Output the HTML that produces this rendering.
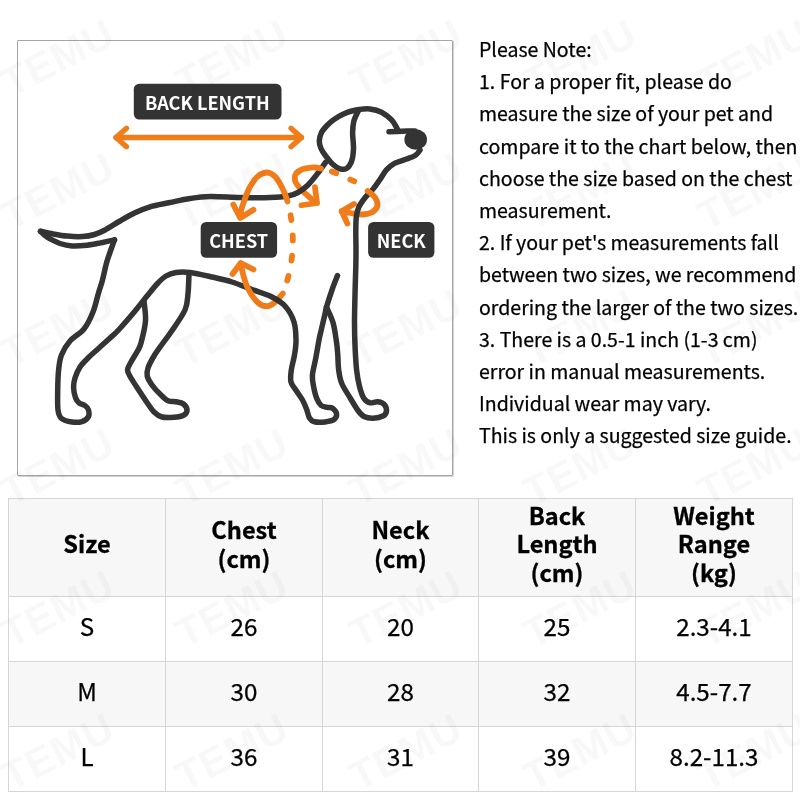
<!DOCTYPE html>
<html lang="en">
<head>
<meta charset="utf-8">
<title>Pet Size Guide</title>
<style>
html,body{margin:0;padding:0;}
body{width:800px;height:800px;background:#fff;position:relative;overflow:hidden;font-family:"Noto Sans CJK SC","Liberation Sans",sans-serif;color:#111;}
.wm{position:absolute;width:140px;height:50px;margin:-25px 0 0 -70px;text-align:center;font-family:"Liberation Sans",sans-serif;font-weight:bold;font-size:41px;letter-spacing:1px;line-height:50px;color:rgba(0,0,0,.028);transform:rotate(-27deg);white-space:nowrap;z-index:5;pointer-events:none;}
.imgbox{position:absolute;left:17px;top:40px;width:434px;height:434px;border:1px solid #a6a6a6;border-radius:1px;box-shadow:1px 1px 0 rgba(160,160,160,.45);box-sizing:content-box;z-index:1;}
.imgbox svg{position:absolute;left:-18px;top:-41px;}
.note{position:absolute;left:479px;top:33px;width:330px;font-size:19.55px;line-height:32.2px;color:#000;-webkit-text-stroke:0.25px #000;z-index:2;white-space:nowrap;}
.note div{height:32.2px;}
table{position:absolute;left:8px;top:498px;width:784px;border-collapse:collapse;table-layout:fixed;z-index:2;}
td,th{border:1px solid #d6d6d6;text-align:center;vertical-align:middle;padding:0;}
th{font-weight:bold;height:89px;padding-bottom:8px;color:#000;-webkit-text-stroke:0.3px #000;line-height:28.3px;background:rgba(246,246,246,.85);font-size:23.6px;}
td{height:56px;padding-bottom:8px;font-size:24.2px;color:#000;-webkit-text-stroke:0.25px #000;}
tr.alt td{background:rgba(246,246,246,.85);}
</style>
</head>
<body>
<div class="imgbox">
<svg width="800" height="800" viewBox="0 0 800 800">
<g fill="none" stroke="#f07d1a" stroke-width="5.8" stroke-linecap="round" stroke-linejoin="round">
<path d="M265.5 306.2 C267.1 306.4 268.5 306.1 270.0 305.5 C271.5 304.9 273.0 303.8 274.5 302.5 C276.0 301.2 277.6 299.5 279.0 298.0 C280.4 296.5 282.1 294.2 282.8 293.5"/>
<path d="M298.5 171.5 C297.2 172.4 296.1 173.5 295.5 174.5 C294.9 175.5 294.8 176.2 294.8 177.5 C294.8 178.8 294.9 180.5 295.5 182.0 C296.1 183.5 297.4 185.1 298.5 186.5 C299.6 187.9 300.6 189.1 302.0 190.5 C303.4 191.9 305.2 193.4 306.8 194.8 C308.2 196.1 309.4 197.2 311.0 198.5 C312.6 199.8 315.6 201.8 316.5 202.5"/>
<path d="M372.5 212.0 C369.9 213.5 365.6 214.3 362.0 214.5 C358.4 214.7 354.0 213.5 350.6 213.0 C347.2 212.5 343.2 211.6 341.7 211.3"/>
<path d="M315 187.25 L317 203 L301.5 205.25"/>
<path d="M354 204 L341.7 211.3 L347.4 223.5"/>
</g>
<g fill="none" stroke="#343434" stroke-width="5.5" stroke-linecap="round" stroke-linejoin="round">
<path d="M325.5 162.5 C324.2 164.2 320.9 169.2 318.0 173.0 C315.1 176.8 311.3 181.8 308.0 185.0 C304.7 188.2 301.3 190.7 298.0 192.5 C294.7 194.3 292.7 195.2 288.0 196.0 C283.3 196.8 278.0 197.2 270.0 197.5 C262.0 197.8 250.0 197.7 240.0 197.5 C230.0 197.3 218.3 196.3 210.0 196.5 C201.7 196.7 196.7 197.5 190.0 198.5 C183.3 199.5 176.7 201.1 170.0 202.5 C163.3 203.9 155.8 205.0 150.0 206.8 C144.2 208.5 140.0 210.4 135.0 212.8 C130.0 215.1 125.0 218.1 120.0 221.0 C115.0 223.9 109.2 227.8 105.0 230.0 C100.8 232.2 98.2 233.4 94.5 234.5 C90.8 235.6 87.0 236.3 82.5 236.6 C78.0 236.9 72.5 236.6 67.5 236.1 C62.5 235.6 57.0 234.6 52.5 233.8 C48.0 232.9 42.5 231.7 40.5 231.3"/>
<path d="M40.5 231.3 C41.2 231.9 43.0 233.8 44.5 235.0 C46.0 236.2 46.9 237.1 49.5 238.5 C52.1 239.9 56.2 242.3 60.0 243.5 C63.8 244.7 67.5 245.6 72.0 245.9 C76.5 246.2 82.2 245.7 87.0 245.2 C91.8 244.7 95.9 243.8 100.5 242.9 C105.1 242.0 112.2 240.4 114.5 239.9"/>
<path d="M114.5 239.9 C113.9 241.5 112.3 245.7 111.0 249.5 C109.7 253.3 107.9 257.9 106.5 263.0 C105.1 268.1 103.8 275.0 102.5 280.0 C101.2 285.0 100.1 287.7 98.5 293.0 C96.9 298.3 95.4 306.0 93.0 312.0 C90.6 318.0 87.8 324.2 84.0 329.0 C80.2 333.8 73.8 336.7 70.0 341.0 C66.2 345.3 63.4 350.2 61.5 355.0 C59.6 359.8 59.2 364.2 58.6 370.0 C58.0 375.8 57.8 383.3 57.7 390.0 C57.6 396.7 57.4 405.2 58.0 410.0 C58.6 414.8 59.2 416.5 61.5 418.5 C63.8 420.5 68.6 421.5 72.0 422.0 C75.4 422.5 79.2 422.5 82.0 421.6 C84.8 420.7 87.5 418.5 88.5 416.5 C89.5 414.5 88.9 411.3 88.3 409.5 C87.7 407.7 86.5 406.7 85.0 405.6 C83.5 404.5 80.6 404.1 79.0 402.8 C77.4 401.5 76.5 400.5 75.6 398.0 C74.7 395.5 73.7 391.3 73.6 388.0 C73.5 384.7 73.9 381.5 75.0 378.0 C76.1 374.5 77.8 370.4 80.0 367.0 C82.2 363.6 85.3 360.7 88.5 357.5 C91.7 354.3 95.5 351.2 99.0 348.0 C102.5 344.8 106.2 341.6 109.5 338.5 C112.8 335.4 114.7 334.2 119.0 329.5 C123.3 324.8 130.8 316.1 135.5 310.5 C140.2 304.9 143.2 300.6 147.0 296.0 C150.8 291.4 154.8 286.3 158.0 283.0 C161.2 279.7 163.0 277.8 166.0 276.0 C169.0 274.2 172.0 273.1 176.0 272.5 C180.0 271.9 184.0 271.8 190.0 272.5 C196.0 273.2 205.0 275.4 212.0 277.0 C219.0 278.6 225.3 279.9 232.0 282.0 C238.7 284.1 245.5 287.1 252.0 289.5 C258.5 291.9 265.5 293.8 271.0 296.5 C276.5 299.2 281.2 301.8 285.0 306.0 C288.8 310.2 292.2 316.3 294.0 322.0 C295.8 327.7 295.9 334.5 296.0 340.0 C296.1 345.5 295.3 350.0 294.5 355.0 C293.7 360.0 291.9 365.5 291.3 370.0 C290.7 374.5 290.1 378.5 291.0 382.0 C291.9 385.5 294.6 388.0 296.5 391.0 C298.4 394.0 300.8 397.0 302.5 400.0 C304.2 403.0 305.3 406.0 306.5 409.0 C307.7 412.0 308.2 415.9 309.5 418.0 C310.8 420.1 311.9 421.1 314.5 421.8 C317.1 422.4 321.8 422.3 325.0 421.9 C328.2 421.5 332.1 420.9 334.0 419.5 C335.9 418.1 336.8 415.4 336.5 413.5 C336.2 411.6 334.0 409.3 332.5 408.2 C331.0 407.2 329.1 407.8 327.2 407.3 C325.4 406.8 323.0 407.0 321.2 405.5 C319.5 404.0 318.1 401.9 316.8 398.5 C315.4 395.1 314.0 389.0 313.3 385.0 C312.6 381.0 312.1 378.8 312.5 374.5 C312.9 370.2 314.4 365.2 315.5 359.5 C316.6 353.8 318.1 344.8 319.0 340.0 C319.9 335.2 320.0 335.3 321.0 331.0 C322.0 326.7 324.1 318.0 325.0 314.0 C325.9 310.0 325.3 311.0 326.5 307.0 C327.7 303.0 330.2 295.2 332.0 290.0 C333.8 284.8 336.6 277.9 337.5 275.5"/>
<path d="M144.0 301.0 C144.2 304.3 146.0 314.0 145.5 321.0 C145.0 328.0 142.3 338.0 141.0 343.0 C139.7 348.0 139.2 347.8 137.5 351.0 C135.8 354.2 132.7 358.8 131.0 362.0 C129.3 365.2 127.5 367.3 127.5 370.0 C127.5 372.7 128.9 374.3 131.0 378.0 C133.1 381.7 137.2 387.7 140.0 392.0 C142.8 396.3 145.7 400.7 148.0 404.0 C150.3 407.3 151.7 409.8 154.0 412.0 C156.3 414.2 158.7 416.1 162.0 417.0 C165.3 417.9 170.3 417.6 174.0 417.3 C177.7 417.0 181.8 416.2 184.0 415.0 C186.2 413.8 187.1 411.8 187.0 410.0 C186.9 408.2 185.3 405.4 183.5 404.0 C181.7 402.6 178.6 402.3 176.0 401.8 C173.4 401.3 170.7 402.1 168.0 400.8 C165.3 399.5 162.7 396.6 160.0 394.0 C157.3 391.4 154.1 388.0 152.0 385.0 C149.9 382.0 147.9 378.8 147.2 376.0 C146.5 373.2 146.9 371.3 148.0 368.0 C149.1 364.7 151.5 360.2 154.0 356.0 C156.5 351.8 160.2 347.0 163.0 343.0 C165.8 339.0 167.3 337.5 171.0 332.0 C174.7 326.5 182.2 316.4 185.0 310.0 C187.8 303.6 187.3 299.5 188.0 293.5 C188.7 287.5 188.8 277.2 189.0 274.0"/>
<path d="M326.5 307.0 C327.6 309.6 331.3 316.7 333.0 322.5 C334.7 328.3 335.7 336.6 336.5 342.0 C337.3 347.4 337.4 350.3 337.8 355.0 C338.1 359.7 338.0 365.2 338.7 370.0 C339.4 374.8 339.8 378.8 341.8 383.5 C343.8 388.2 347.8 394.0 350.5 398.5 C353.2 403.0 355.8 407.5 358.0 410.5 C360.2 413.5 361.5 415.2 364.0 416.5 C366.5 417.8 369.8 418.3 373.0 418.2 C376.2 418.1 381.2 417.0 383.5 415.8 C385.8 414.5 386.4 412.5 386.5 410.5 C386.6 408.5 385.3 405.5 383.8 404.0 C382.3 402.5 379.8 401.9 377.5 401.7 C375.2 401.5 372.2 403.3 370.0 402.8 C367.8 402.3 365.8 401.2 364.0 398.5 C362.2 395.8 360.7 391.2 359.5 386.5 C358.3 381.8 357.3 376.1 356.6 370.0 C355.9 363.9 355.6 357.9 355.2 350.0 C354.8 342.1 354.5 331.7 354.5 322.5 C354.5 313.3 354.8 304.2 355.0 295.0 C355.2 285.8 355.6 274.5 355.8 267.0 C356.0 259.5 356.0 255.8 356.0 250.0 C356.0 244.2 355.8 237.5 355.8 232.0 C355.9 226.5 355.8 221.1 356.3 217.0 C356.8 212.9 357.3 210.5 358.8 207.2 C360.2 204.0 362.8 200.6 365.2 197.5 C367.7 194.4 371.0 191.6 373.4 188.6 C375.8 185.6 377.7 182.7 379.9 179.6 C382.1 176.5 384.0 172.6 386.4 169.9 C388.8 167.2 391.2 165.2 394.5 163.4 C397.8 161.6 402.4 160.7 405.9 159.3 C409.4 157.9 413.2 156.8 415.6 155.2 C418.0 153.7 419.3 150.9 420.0 150.0"/>
<path d="M398.0 130.5 C397.7 129.8 397.1 128.3 396.0 126.5 C394.9 124.7 393.7 121.9 391.2 119.5 C388.8 117.1 385.0 114.0 381.5 112.2 C378.0 110.5 373.8 109.5 370.0 109.0 C366.2 108.5 362.1 109.1 358.8 109.5 C355.4 109.9 352.7 110.7 350.0 111.5 C347.3 112.3 345.2 113.3 342.5 114.6 C339.8 115.9 336.6 117.7 334.0 119.5 C331.4 121.3 329.1 123.3 327.0 125.5 C324.9 127.7 322.8 129.9 321.5 132.5 C320.2 135.1 319.4 138.3 319.3 141.0 C319.2 143.7 320.0 146.1 321.0 148.5 C322.0 150.9 323.2 152.6 325.2 155.2 C327.2 157.9 330.3 161.9 332.8 164.2 C335.2 166.5 337.7 168.1 340.0 168.8 C342.3 169.5 344.6 169.7 346.5 168.5 C348.4 167.3 350.2 165.0 351.4 161.8 C352.6 158.5 353.3 153.6 353.5 148.8 C353.7 143.9 352.5 137.1 352.6 132.5 C352.7 127.9 352.9 124.8 353.9 121.0 C354.9 117.2 357.9 111.8 358.8 110.0"/>
<path d="M389.0 131.7 C391.2 131.6 397.7 131.3 402.0 131.2 C406.3 131.1 412.8 130.9 415.0 130.9"/>
</g>
<ellipse cx="415.7" cy="139.5" rx="11.3" ry="10.3" fill="#343434"/>
<g fill="none" stroke="#f07d1a" stroke-width="5.8" stroke-linecap="round" stroke-linejoin="round">
<path d="M116 137.5 H301.5" stroke-width="5.3"/>
<path d="M126.5 128.2 L116 137.5 L126.5 146.8" stroke-width="5.3"/>
<path d="M291 128.2 L301.5 137.5 L291 146.8" stroke-width="5.3"/>
<path d="M240.3 217.5 C240.5 216.1 240.8 211.9 241.5 209.0 C242.2 206.1 243.4 203.0 244.5 200.0 C245.6 197.0 246.8 193.8 248.0 191.0 C249.2 188.2 250.5 185.8 252.0 183.5 C253.5 181.2 255.2 178.7 257.0 177.0 C258.8 175.3 260.8 174.2 262.5 173.5 C264.2 172.8 265.5 172.5 267.0 172.5 C268.5 172.5 270.1 173.0 271.5 173.8 C272.9 174.5 274.2 175.6 275.5 177.0 C276.8 178.4 277.9 180.2 279.0 182.0 C280.1 183.8 281.0 185.5 282.0 187.5 C283.0 189.5 284.1 191.7 285.0 194.0 C285.9 196.3 287.1 200.2 287.5 201.5"/>
<path d="M240.8 263.5 C241.1 265.2 241.9 270.0 243.0 274.0 C244.1 278.0 245.5 283.2 247.5 287.5 C249.5 291.8 252.8 296.7 255.0 299.5 C257.2 302.3 258.8 303.4 260.5 304.5 C262.2 305.6 263.9 306.1 265.5 306.2"/>
<path d="M321.0 168.5 C320.0 168.3 317.0 167.6 315.0 167.5 C313.0 167.4 311.0 167.5 309.0 167.8 C307.0 168.0 304.8 168.4 303.0 169.0 C301.2 169.6 299.8 170.6 298.5 171.5"/>
<path d="M367.7 191.0 C368.9 192.1 373.4 195.1 375.0 197.5 C376.6 199.9 377.8 203.2 377.4 205.6 C377.0 208.0 375.1 210.5 372.5 212.0"/>
<path d="M233.25 204.5 L240.3 218 L253.5 209.75"/>
<path d="M232.5 274 L240.75 263 L253.5 269.5"/>
<path d="M287.5 201.5 C288.1 204.2 290.1 211.7 291.0 217.8 C291.9 223.8 292.7 231.2 292.8 238.0 C292.9 244.8 292.6 251.6 291.8 258.2 C290.9 264.9 289.1 273.1 288.0 277.8 C286.9 282.4 285.5 284.6 285.0 286.0" stroke-dasharray="5 15.3" stroke-dashoffset="-14.1"/>
<path d="M331.8 171.6 L336.2 173.2 M350.3 179.6 L354.3 181.2"/>
</g>
<g fill="#333"><rect x="133.8" y="83.7" width="147.7" height="35.8" rx="5.5"/><rect x="200.7" y="222" width="76.4" height="35.8" rx="5.5"/><rect x="368.1" y="222" width="66.3" height="35.8" rx="5.5"/></g>
<g fill="#fff" font-family="'Noto Sans CJK SC','Liberation Sans',sans-serif" font-weight="bold" font-size="18.1" text-anchor="middle"><text x="207.3" y="109.9">BACK LENGTH</text><text x="238.7" y="248.2">CHEST</text><text x="401.2" y="248.2">NECK</text></g>

</svg>
</div>
<div class="note">
<div>Please Note:</div>
<div>1. For a proper fit, please do</div>
<div>measure the size of your pet and</div>
<div>compare it to the chart below, then</div>
<div>choose the size based on the chest</div>
<div>measurement.</div>
<div>2. If your pet's measurements fall</div>
<div>between two sizes, we recommend</div>
<div>ordering the larger of the two sizes.</div>
<div>3. There is a 0.5-1 inch (1-3 cm)</div>
<div>error in manual measurements.</div>
<div>Individual wear may vary.</div>
<div>This is only a suggested size guide.</div>
</div>
<table>
<colgroup><col style="width:157px"><col style="width:157px"><col style="width:156px"><col style="width:157px"><col style="width:157px"></colgroup>
<tr><th>Size</th><th>Chest<br>(cm)</th><th>Neck<br>(cm)</th><th>Back<br>Length<br>(cm)</th><th>Weight<br>Range<br>(kg)</th></tr>
<tr><td>S</td><td>26</td><td>20</td><td>25</td><td>2.3-4.1</td></tr>
<tr class="alt"><td>M</td><td>30</td><td>28</td><td>32</td><td>4.5-7.7</td></tr>
<tr><td>L</td><td>36</td><td>31</td><td>39</td><td>8.2-11.3</td></tr>
</table>
<div class="wm" style="left:58px;top:58px">TEMU</div>
<div class="wm" style="left:232px;top:58px">TEMU</div>
<div class="wm" style="left:406px;top:58px">TEMU</div>
<div class="wm" style="left:580px;top:58px">TEMU</div>
<div class="wm" style="left:754px;top:58px">TEMU</div>
<div class="wm" style="left:58px;top:191px">TEMU</div>
<div class="wm" style="left:232px;top:191px">TEMU</div>
<div class="wm" style="left:406px;top:191px">TEMU</div>
<div class="wm" style="left:580px;top:191px">TEMU</div>
<div class="wm" style="left:754px;top:191px">TEMU</div>
<div class="wm" style="left:58px;top:328px">TEMU</div>
<div class="wm" style="left:232px;top:328px">TEMU</div>
<div class="wm" style="left:406px;top:328px">TEMU</div>
<div class="wm" style="left:580px;top:328px">TEMU</div>
<div class="wm" style="left:754px;top:328px">TEMU</div>
<div class="wm" style="left:58px;top:467px">TEMU</div>
<div class="wm" style="left:232px;top:467px">TEMU</div>
<div class="wm" style="left:406px;top:467px">TEMU</div>
<div class="wm" style="left:580px;top:467px">TEMU</div>
<div class="wm" style="left:754px;top:467px">TEMU</div>
<div class="wm" style="left:58px;top:609px">TEMU</div>
<div class="wm" style="left:232px;top:609px">TEMU</div>
<div class="wm" style="left:406px;top:609px">TEMU</div>
<div class="wm" style="left:580px;top:609px">TEMU</div>
<div class="wm" style="left:754px;top:609px">TEMU</div>
<div class="wm" style="left:58px;top:752px">TEMU</div>
<div class="wm" style="left:232px;top:752px">TEMU</div>
<div class="wm" style="left:406px;top:752px">TEMU</div>
<div class="wm" style="left:580px;top:752px">TEMU</div>
<div class="wm" style="left:754px;top:752px">TEMU</div>
</body>
</html>
